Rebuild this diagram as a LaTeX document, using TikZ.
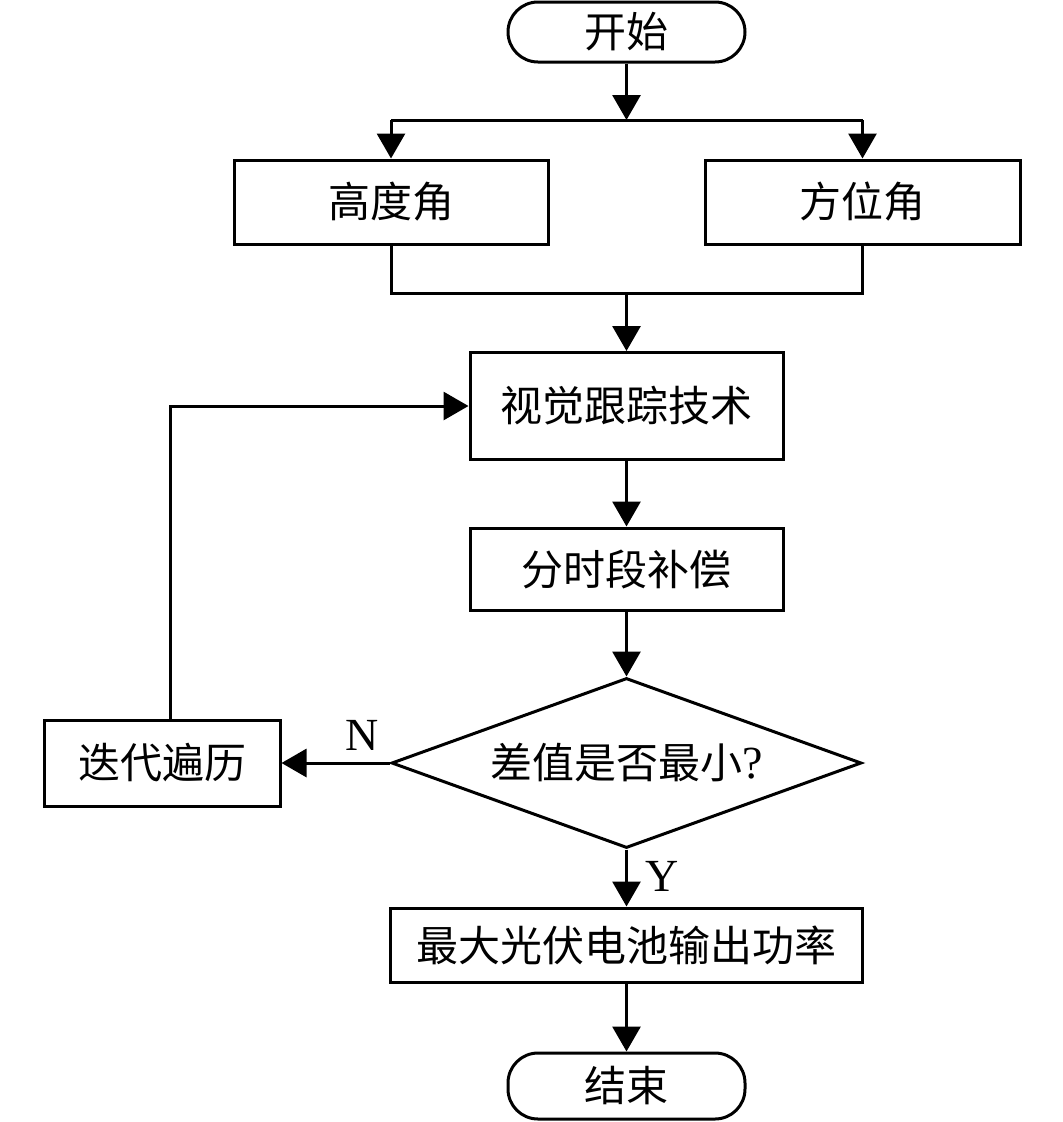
\documentclass[tikz,border=0pt]{standalone}
\usepackage{fontspec}
\setmainfont{Liberation Serif}
\newfontfamily\cjk{Noto Sans CJK SC}
\usetikzlibrary{arrows.meta,shapes.geometric}
\begin{document}
\begin{tikzpicture}[x=1pt,y=-1pt,
  line width=3pt,
  every node/.style={font=\fontsize{46}{52}\selectfont},
  boxnode/.style={draw,rectangle,inner sep=0pt,font=\cjk\fontsize{42}{50}\selectfont},
  termnode/.style={draw,rectangle,rounded corners=30pt,inner sep=0pt,font=\cjk\fontsize{42}{50}\selectfont},
  decnode/.style={draw,diamond,aspect=2.76,inner sep=0pt,minimum width=470pt,minimum height=170pt},
  arr/.style={-{Triangle[length=25pt,width=28pt]}}
]
\useasboundingbox (0,0) rectangle (1063,1122);
% nodes
\node[termnode,minimum width=237pt,minimum height=60pt] (start) at (626.5,32) {开始};
\node[boxnode,minimum width=314pt,minimum height=84pt] (gd) at (391,202) {高度角};
\node[boxnode,minimum width=315pt,minimum height=84pt] (fw) at (862.5,202) {方位角};
\node[boxnode,minimum width=313pt,minimum height=107pt] (vis) at (626.5,406) {视觉跟踪技术};
\node[boxnode,minimum width=313pt,minimum height=82pt] (seg) at (626.5,569) {分时段补偿};
\node[decnode] (dec) at (626.5,763) {{\cjk\fontsize{42}{50}\selectfont 差值是否最小}?};
\node[boxnode,minimum width=236pt,minimum height=86pt] (it) at (162,763) {迭代遍历};
\node[boxnode,minimum width=472pt,minimum height=74pt] (out) at (626.5,945) {最大光伏电池输出功率};
\node[termnode,minimum width=237pt,minimum height=66pt] (end) at (626.5,1086) {结束};
% junction coordinates
\coordinate (j1) at (626.5,120);
\coordinate (jl) at (391,120);
\coordinate (jr) at (862.5,120);
\coordinate (ml) at (391,293);
\coordinate (mm) at (626.5,293);
\coordinate (mr) at (862.5,293);
\coordinate (fb) at (170,406);
% connectors
\draw[arr] (start) -- (j1);
\draw (jl) -- (jr);
\draw[arr] (jl) -- (gd);
\draw[arr] (jr) -- (fw);
\draw (gd.south) -- (ml) -- (mr) -- (fw.south);
\draw[arr] (mm) -- (vis);
\draw[arr] (vis) -- (seg);
\draw[arr] (seg) -- (dec);
\draw[arr] (dec) -- node[above=8pt,xshift=26pt] (nlab) {N} (it);
\draw[arr] (it.north -| fb) -- (fb) -- (vis.west);
\draw[arr] (dec) -- node[right=14pt,yshift=2pt] (ylab) {Y} (out);
\draw[arr] (out) -- (end);
\end{tikzpicture}
\end{document}
